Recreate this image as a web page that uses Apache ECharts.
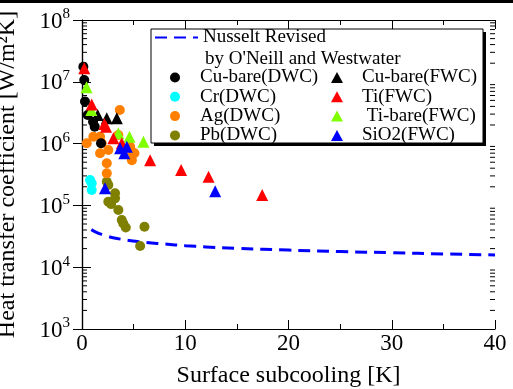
<!DOCTYPE html>
<html>
<head>
<meta charset="utf-8">
<script src="https://cdn.jsdelivr.net/npm/echarts@6/dist/echarts.min.js"></script>
<style>
  html, body { margin: 0; padding: 0; background: #fff; }
  #chart { width: 513px; height: 389px; }
</style>
</head>
<body>
<div id="chart"></div>
<script>
// Surface subcooling [K] vs heat transfer coefficient [W/m2K]
const FONT = 'Liberation Serif';

// Nusselt theory revised by O'Neill and Westwater
const nusseltX = [0.9, 1.5, 2, 2.5, 3, 4, 5, 6, 8, 10, 12, 15, 20, 25, 30, 35, 40];
const nusseltY = [40500, 36000, 33500, 31500, 30000, 28000, 26500, 25300, 23700, 22300, 21300, 20200, 18900, 17900, 17200, 16400, 15800];

// Dropwise condensation (DWC)
const cuBareDwcX = [0.13, 0.22, 0.29, 0.55, 1.07, 1.23, 1.84];
const cuBareDwcY = [1.75e7, 1.07e7, 4.8e6, 2.9e6, 2.26e6, 1.88e6, 1.01e6];

const crDwcX = [0.78, 0.94, 0.94];
const crDwcY = [2.58e5, 2.28e5, 1.77e5];

const agDwcX = [0.46, 1.1, 1.75, 1.91, 1.75, 2.55, 2.4, 2.4, 3.52, 3.66, 4.66, 4.83, 4.83, 5.08];
const agDwcY = [1.01e6, 1.29e6, 1.29e6, 1.01e6, 7.0e5, 7.9e5, 4.8e5, 3.3e5, 1.38e6, 3.5e6, 8.9e5, 7.4e5, 5.4e5, 7.0e5];

const pbDwcX = [2.4, 2.55, 3.2, 3.2, 2.55, 2.82, 3.52, 3.85, 4.0, 4.24, 6.05, 5.63];
const pbDwcY = [2.42e5, 2.14e5, 1.57e5, 1.30e5, 1.15e5, 1.05e5, 8.4e4, 5.8e4, 5.1e4, 4.4e4, 4.5e4, 2.2e4];

// Filmwise condensation (FWC)
const cuBareFwcX = [1.52, 2.4, 3.37];
const cuBareFwcY = [2.9e6, 2.57e6, 2.57e6];

const tiFwcX = [0.22, 0.94, 2.17, 2.33, 3.04, 3.85, 6.6, 9.6, 12.26, 17.45];
const tiFwcY = [1.65e7, 4.3e6, 2.07e6, 1.88e6, 1.22e6, 1.01e6, 5.4e5, 3.74e5, 2.91e5, 1.47e5];

const tiBareFwcX = [0.44, 0.9, 3.52, 4.6, 5.95];
const tiBareFwcY = [8.2e6, 3.5e6, 1.47e6, 1.29e6, 1.07e6];

const sio2FwcX = [3.69, 4.34, 4.1, 2.23, 12.9];
const sio2FwcY = [8.4e5, 8.9e5, 7.0e5, 1.89e5, 1.7e5];

// Axis ranges and ticks
const xMin = 0, xMax = 40, xStep = 10;
const yMin = 1e3, yMax = 1e8;
const yMinorTicks = [];
for (let e = 3; e < 8; e++) {
  for (let m = 2; m <= 9; m++) yMinorTicks.push(m * Math.pow(10, e));
}

const zip = (xs, ys) => xs.map((x, i) => [x, ys[i]]);

const chart = echarts.init(document.getElementById('chart'), null, { renderer: 'canvas' });

const axisLine = { show: true, lineStyle: { color: '#000', width: 1.2 } };

function scatter(name, xs, ys, color, symbol, size) {
  return {
    name, type: 'scatter', data: zip(xs, ys), symbol, symbolSize: size,
    itemStyle: { color, opacity: 1 }, z: 3
  };
}

const legendText = { fontFamily: FONT, fontSize: 19, color: '#000' };

const option = {
  animation: false,
  backgroundColor: '#fff',
  textStyle: { fontFamily: FONT },
  grid: { left: 82, right: 18, top: 20, bottom: 60, containLabel: false, outerBoundsMode: 'none' },
  xAxis: [
    {
      type: 'value', min: xMin, max: xMax, interval: xStep,
      name: 'Surface subcooling [K]', nameLocation: 'middle', nameGap: 35,
      nameTextStyle: { fontFamily: FONT, fontSize: 24, color: '#000' },
      axisLine,
      axisTick: { inside: true, length: 9, lineStyle: { color: '#000' } },
      minorTick: { show: true, splitNumber: 2, length: 5, lineStyle: { color: '#000' } },
      axisLabel: { fontFamily: FONT, fontSize: 23, color: '#000', margin: 3 },
      splitLine: { show: false }
    },
    {
      type: 'value', min: xMin, max: xMax, interval: xStep, position: 'top',
      axisLine,
      axisTick: { inside: true, length: 9, lineStyle: { color: '#000' } },
      minorTick: { show: true, splitNumber: 2, length: 5, lineStyle: { color: '#000' } },
      axisLabel: { show: false }, splitLine: { show: false }
    }
  ],
  yAxis: [
    {
      type: 'log', logBase: 10, min: yMin, max: yMax,
      name: 'Heat transfer coefficient [W/m²K]', nameLocation: 'middle', nameGap: 62,
      nameTextStyle: { fontFamily: FONT, fontSize: 24, color: '#000' },
      axisLine,
      axisTick: { inside: true, length: 9, lineStyle: { color: '#000' } },
      axisLabel: {
        margin: 12,
        formatter: v => '{b|10}{s|' + Math.round(Math.log10(v)) + '}',
        rich: {
          b: { fontFamily: FONT, fontSize: 23, color: '#000', lineHeight: 26, verticalAlign: 'bottom' },
          s: { fontFamily: FONT, fontSize: 15, color: '#000', verticalAlign: 'top', lineHeight: 26 }
        }
      },
      splitLine: { show: false }
    },
    {
      type: 'log', logBase: 10, min: yMin, max: yMax, position: 'right',
      axisLine,
      axisTick: { inside: true, length: 9, lineStyle: { color: '#000' } },
      axisLabel: { show: false }, splitLine: { show: false }
    }
  ],
  legend: [
    {
      data: ['Nusselt Revised'], left: 154, top: 28, orient: 'vertical', z: 20, padding: 0,
      itemWidth: 43, itemHeight: 14,
      itemStyle: { opacity: 0 },
      textStyle: legendText
    },
    {
      data: ['Cu-bare(DWC)', 'Cr(DWC)', 'Ag(DWC)', 'Pb(DWC)'],
      left: 170, top: 68, orient: 'vertical', itemGap: 0.3, z: 20, padding: 0,
      itemWidth: 10, itemHeight: 10,
      textStyle: Object.assign({ lineHeight: 17, padding: [0, 0, 0, 15] }, legendText)
    },
    {
      data: ['Cu-bare(FWC)', 'Ti(FWC)', 'Ti-bare(FWC)', 'SiO2(FWC)'],
      left: 331, top: 68, orient: 'vertical', itemGap: 0.3, z: 20, padding: 0,
      itemWidth: 12, itemHeight: 11,
      formatter: n => (n === 'Ti-bare(FWC)' ? ' ' + n : n),
      textStyle: Object.assign({ lineHeight: 17, padding: [0, 0, 0, 14] }, legendText)
    }
  ],
  graphic: [
    { type: 'rect', shape: { x: 0, y: 0, width: 513, height: 3 }, style: { fill: '#000' }, z: 10 },
    { type: 'rect', shape: { x: 154, y: 32, width: 332, height: 114 }, style: { fill: '#000' }, z: 5 },
    { type: 'rect', shape: { x: 151, y: 29, width: 332, height: 114 }, style: { fill: '#fff', stroke: '#000', lineWidth: 1 }, z: 6 },
    {
      type: 'text', left: 205, top: 50, z: 21,
      style: { text: "by O'Neill and Westwater", font: '19px "Liberation Serif"', fill: '#000' }
    }
  ],
  series: [
    {
      name: 'Nusselt Revised', type: 'line', data: zip(nusseltX, nusseltY),
      symbol: 'none', smooth: true, z: 2,
      lineStyle: { color: '#0000ff', width: 3, type: [12, 7] },
      itemStyle: { color: '#0000ff' }
    },
    scatter('Pb(DWC)', pbDwcX, pbDwcY, '#808000', 'circle', 10),
    scatter('Cr(DWC)', crDwcX, crDwcY, '#00ffff', 'circle', 10),
    scatter('Ag(DWC)', agDwcX, agDwcY, '#ff8000', 'circle', 10),
    scatter('Cu-bare(DWC)', cuBareDwcX, cuBareDwcY, '#000000', 'circle', 10),
    scatter('Cu-bare(FWC)', cuBareFwcX, cuBareFwcY, '#000000', 'triangle', 12),
    scatter('Ti-bare(FWC)', tiBareFwcX, tiBareFwcY, '#80ff00', 'triangle', 12),
    scatter('Ti(FWC)', tiFwcX, tiFwcY, '#ff0000', 'triangle', 12),
    scatter('SiO2(FWC)', sio2FwcX, sio2FwcY, '#0000ff', 'triangle', 12),
    {
      // minor ticks of the log axes, on both the left and right frame edges
      type: 'custom', silent: true, z: 1,
      data: yMinorTicks.map(v => [xMin, v]),
      renderItem: (params, api) => {
        const cs = params.coordSys;
        const y = api.coord([xMin, api.value(1)])[1];
        const st = { stroke: '#000', lineWidth: 1 };
        return {
          type: 'group', children: [
            { type: 'line', shape: { x1: cs.x, y1: y, x2: cs.x + 5, y2: y }, style: st },
            { type: 'line', shape: { x1: cs.x + cs.width - 5, y1: y, x2: cs.x + cs.width, y2: y }, style: st }
          ]
        };
      }
    }
  ]
};

chart.setOption(option);
</script>
</body>
</html>
